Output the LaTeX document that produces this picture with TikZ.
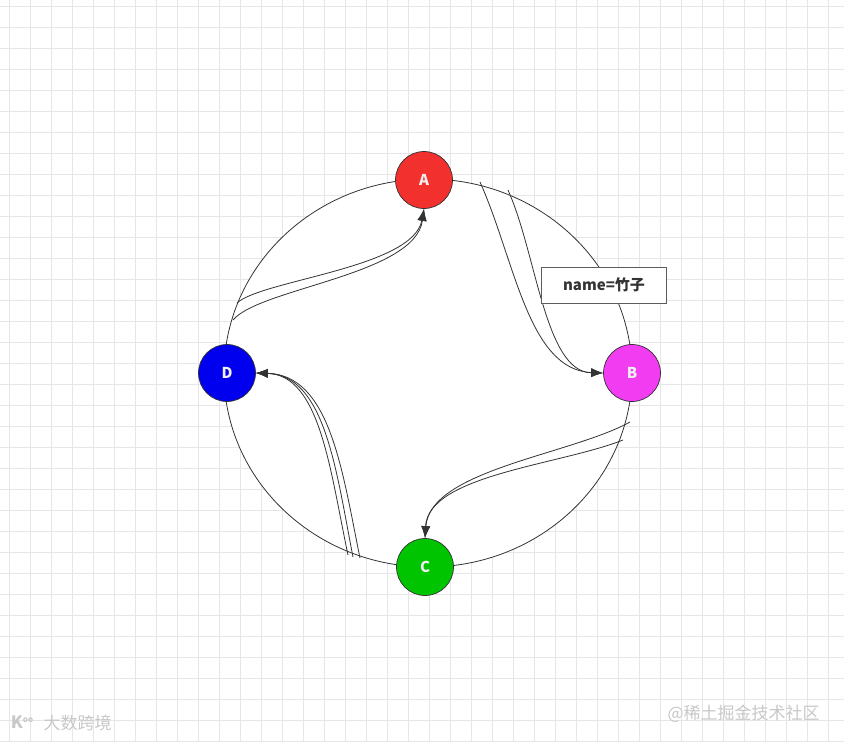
\documentclass[tikz,border=0pt]{standalone}
\usepackage{fontspec}
\setmainfont{Noto Sans CJK SC}
\usetikzlibrary{arrows.meta,shapes.geometric}
\definecolor{gridc}{HTML}{E6E6EA}
\definecolor{linec}{HTML}{333333}
\definecolor{redA}{HTML}{F2302E}
\definecolor{magB}{HTML}{F23CF2}
\definecolor{grnC}{HTML}{00C400}
\definecolor{bluD}{HTML}{0000EE}
\definecolor{wmk}{HTML}{C8C8C8}
\tikzset{
  peer/.style={circle, draw=linec, line width=0.7pt, minimum size=57pt, inner sep=0pt,
    font=\fontsize{15}{17}\selectfont\bfseries, text=white!88!gray},
  flow/.style={draw=linec, line width=0.8pt},
  flowarrow/.style={flow, -{Latex[length=12pt,width=9pt]}},
  tag/.style={draw=linec!80, fill=white, line width=0.8pt, minimum width=125pt, minimum height=36pt,
    font=\fontsize{15}{17}\selectfont\bfseries, text=linec},
  wm/.style={font=\fontsize{17}{19}\selectfont, text=wmk, anchor=west}
}
\begin{document}
\begin{tikzpicture}[x=1pt,y=-1pt]
\useasboundingbox (0,0) rectangle (844,742);
\fill[white] (0,0) rectangle (844,742);
% grid
\foreach \i in {0,...,40} { \draw[gridc, line width=0.9pt] (9+21*\i,0) -- (9+21*\i,742); }
\foreach \j in {0,...,35} { \draw[gridc, line width=0.9pt] (0,6+21*\j) -- (844,6+21*\j); }
% ring
\node[ellipse, draw=linec, line width=0.8pt, fill=white, minimum width=408pt, minimum height=388pt, inner sep=0pt] (ring) at (428,373) {};
% start points on ring
\coordinate (da1) at (233,320);
\coordinate (da2) at (237,303);
\coordinate (ab1) at (480,182);
\coordinate (ab2) at (508,190);
\coordinate (bc1) at (630,422);
\coordinate (bc2) at (623,440);
\coordinate (cd1) at (348,555);
\coordinate (cd2) at (353,557);
\coordinate (cd3) at (360,558);
% nodes
\node[peer, fill=redA] (A) at (424,180) {A};
\node[peer, fill=magB] (B) at (632,373) {B};
\node[peer, fill=grnC] (C) at (425,567) {C};
\node[peer, fill=bluD] (D) at (227,373) {D};
% D -> A
\draw[flowarrow] (da1) .. controls (260,288) and (415,275) .. (A.south);
\draw[flowarrow] (da2) .. controls (262,280) and (413,268) .. (A.south);
% A -> B
\draw[flowarrow] (ab1) .. controls (515,260) and (528,370) .. (B.west);
\draw[flowarrow] (ab2) .. controls (537,255) and (545,372) .. (B.west);
% B -> C
\draw[flowarrow] (bc1) .. controls (570,455) and (430,470) .. (C.north);
\draw[flowarrow] (bc2) .. controls (560,465) and (428,475) .. (C.north);
% C -> D
\draw[flowarrow] (cd1) .. controls (330,470) and (320,375) .. (D.east);
\draw[flowarrow] (cd2) .. controls (336,470) and (325,375) .. (D.east);
\draw[flowarrow] (cd3) .. controls (342,470) and (330,375) .. (D.east);
% label
\node[tag] (name) at (604,285) {name=竹子};
% watermarks
\node[wm] (wmL) at (40,723) {大数跨境};
\node[font=\fontsize{17}{19}\selectfont\bfseries, text=wmk] (logo) at (22,722) {K\raisebox{0.6ex}{\fontsize{8}{8}\selectfont oo}};
\node[wm] (wmR) at (664,714) {@稀土掘金技术社区};
\end{tikzpicture}
\end{document}
